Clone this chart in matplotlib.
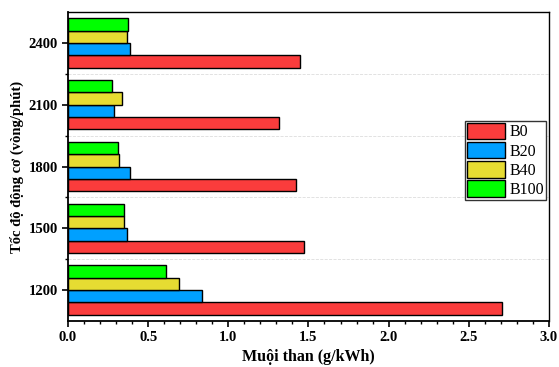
#! /usr/bin/env python3

import numpy as np
import matplotlib
matplotlib.use('Agg')
import matplotlib.pyplot as plt
from matplotlib.ticker import MultipleLocator, FixedLocator

# data
speeds = ['1200', '1500', '1800', '2100', '2400']
fuels = ['B0', 'B20', 'B40', 'B100']
soot = {
    'B0':   [2.71, 1.474, 1.42, 1.316, 1.447],
    'B20':  [0.836, 0.366, 0.385, 0.289, 0.385],
    'B40':  [0.69, 0.351, 0.316, 0.335, 0.37],
    'B100': [0.609, 0.347, 0.31, 0.272, 0.372],
}
colors = ['#FA3C3C', '#00A0FF', '#E6DC32', '#00FF00']

plt.rcParams['font.family'] = ['Liberation Serif', 'DejaVu Serif']

fig = plt.figure(figsize=(5.59, 3.67), dpi=100)
ax = fig.add_axes([0.1216, 0.1253, 0.8604, 0.8417])

y = np.arange(len(speeds))
h = 0.2
for i, f in enumerate(fuels):
    ax.barh(y + (i - 1.5) * h, soot[f], height=h, color=colors[i],
            edgecolor='black', linewidth=1.0, label=f, zorder=3)

ax.set_xlim(0, 3.0)
ax.set_ylim(-0.5, len(speeds) - 0.5)
ax.set_yticks(y)
ax.set_yticklabels(speeds)
ax.yaxis.set_minor_locator(FixedLocator(y[:-1] + 0.5))
ax.xaxis.set_major_locator(MultipleLocator(0.5))
ax.xaxis.set_minor_locator(MultipleLocator(0.1))
ax.xaxis.set_major_formatter(matplotlib.ticker.FormatStrFormatter('%.1f'))

ax.grid(axis='y', which='minor', color='#DDDDDD', linestyle='--', linewidth=0.6, zorder=0)

ax.tick_params(which='major', direction='out', length=4, width=1.2, labelsize=10.5)
ax.tick_params(which='minor', direction='out', length=2, width=1)
for lab in ax.get_xticklabels() + ax.get_yticklabels():
    lab.set_fontweight('bold')

for s in ['left', 'bottom']:
    ax.spines[s].set_linewidth(1.3)
for s in ['top', 'right']:
    ax.spines[s].set_linewidth(1.0)

ax.set_xlabel('Muội than (g/kWh)', fontsize=11.5, fontweight='bold', labelpad=3)
ax.set_ylabel('Tốc độ động cơ (vòng/phút)', fontsize=10.5, fontweight='bold', labelpad=3)

leg = ax.legend(loc='center right', bbox_to_anchor=(1.0, 0.52), fontsize=11.5,
                fancybox=False, framealpha=1, edgecolor='#333333',
                handlelength=2.4, handleheight=1.2, handletextpad=0.25,
                borderpad=0.12, labelspacing=0.1, borderaxespad=0.2)
leg.get_frame().set_linewidth(1.0)

fig.savefig('out.png', dpi=100)
